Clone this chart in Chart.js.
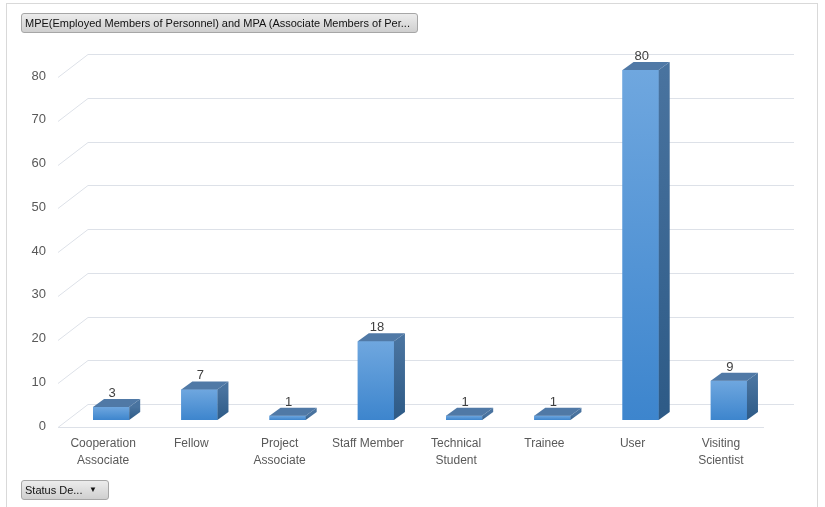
<!DOCTYPE html>
<html>
<head>
<meta charset="utf-8">
<script src="https://cdn.jsdelivr.net/npm/chart.js@4/dist/chart.umd.min.js"></script>
<style>
  html, body { margin: 0; padding: 0; background: #fff; overflow: hidden; }
  #wrap { position: relative; width: 825px; height: 507px; }
  #frame { position: absolute; left: 6px; top: 3px; width: 812px; height: 520px; border: 1px solid #d9d9d9; box-sizing: border-box; }
  .fieldBtn {
    position: absolute; height: 20px; box-sizing: border-box;
    border: 1px solid #a6a6a6; border-radius: 3px;
    background: linear-gradient(#ececec, #cfcfcf);
    font: 11px "Liberation Sans", Arial, sans-serif; color: #111;
    line-height: 18px; padding: 0 3px; white-space: nowrap; overflow: hidden;
  }
  #titleBtn { left: 21px; top: 13px; width: 397px; }
  #statusBtn { left: 21px; top: 480px; width: 88px; }
  #statusBtn span { font-size: 8px; position: absolute; right: 11px; top: 0; }
  canvas { position: absolute; left: 0; top: 0; }
</style>
</head>
<body>
<div id="wrap">
  <div id="frame"></div>
  <canvas id="barChart" width="825" height="507"></canvas>
  <div class="fieldBtn" id="titleBtn">MPE(Employed Members of Personnel) and MPA (Associate Members of Per...</div>
  <div class="fieldBtn" id="statusBtn">Status De...<span>&#9660;</span></div>
</div>
<script>
// data
var categories = [['Cooperation', 'Associate'], 'Fellow', ['Project', 'Associate'], 'Staff Member',
                  ['Technical', 'Student'], 'Trainee', 'User', ['Visiting', 'Scientist']];
var counts = [3, 7, 1, 18, 1, 1, 80, 9];
var yTicks = [0, 10, 20, 30, 40, 50, 60, 70, 80];

// offsets for the fake 3D look
var barDepth = { dx: 11, dy: -8 };
var floorFront = { dx: -9, dy: 7 };
var wallBack = { dx: 21, dy: -16 };

var threeD = {
    id: 'threeD',
    beforeDatasetsDraw: function (chart) {
        var ctx = chart.ctx, area = chart.chartArea, y = chart.scales.y;
        ctx.save();
        ctx.strokeStyle = '#dde1e8';
        ctx.lineWidth = 1;
        yTicks.forEach(function (v) {
            var py = Math.round(y.getPixelForValue(v)) + 0.5;
            ctx.beginPath();
            ctx.moveTo(area.left + floorFront.dx, py + floorFront.dy);
            ctx.lineTo(area.left + wallBack.dx, py + wallBack.dy);
            ctx.lineTo(area.right + wallBack.dx, py + wallBack.dy);
            ctx.stroke();
        });
        // front edge of the floor
        var p0 = Math.round(y.getPixelForValue(0)) + 0.5;
        ctx.beginPath();
        ctx.moveTo(area.left + floorFront.dx, p0 + floorFront.dy);
        ctx.lineTo(area.right + floorFront.dx, p0 + floorFront.dy);
        ctx.stroke();
        ctx.restore();
    },
    afterDatasetsDraw: function (chart) {
        var ctx = chart.ctx;
        var meta = chart.getDatasetMeta(0);
        ctx.save();
        meta.data.forEach(function (bar, i) {
            var l = bar.x - bar.width / 2, r = bar.x + bar.width / 2;
            var t = bar.y, b = bar.base;
            var dx = barDepth.dx, dy = barDepth.dy;

            var g = ctx.createLinearGradient(0, t, 0, b);
            g.addColorStop(0, '#6fa7df');
            g.addColorStop(1, '#3d85cd');
            ctx.fillStyle = g;
            ctx.fillRect(l, t, r - l, b - t);

            var gs = ctx.createLinearGradient(0, t, 0, b);
            gs.addColorStop(0, '#49739f');
            gs.addColorStop(1, '#2d5a86');
            ctx.fillStyle = gs;
            ctx.beginPath();
            ctx.moveTo(r, t);
            ctx.lineTo(r + dx, t + dy);
            ctx.lineTo(r + dx, b + dy);
            ctx.lineTo(r, b);
            ctx.closePath();
            ctx.fill();

            ctx.fillStyle = '#5079a6';
            ctx.beginPath();
            ctx.moveTo(l, t);
            ctx.lineTo(l + dx, t + dy);
            ctx.lineTo(r + dx, t + dy);
            ctx.lineTo(r, t);
            ctx.closePath();
            ctx.fill();

            ctx.fillStyle = '#404040';
            ctx.font = '13px "Liberation Sans", Arial, sans-serif';
            ctx.textAlign = 'center';
            ctx.textBaseline = 'bottom';
            ctx.fillText(String(counts[i]), bar.x + 1, t + dy + 1);
        });
        ctx.restore();
    }
};

var ctx = document.getElementById('barChart');

var myBarChart = new Chart(ctx, {
    type: 'bar',
    data: {
        labels: categories,
        datasets: [{
            label: 'Count',
            data: counts,
            backgroundColor: '#4a8fd5',
            borderWidth: 0,
            categoryPercentage: 1,
            barPercentage: 0.41
        }]
    },
    options: {
        responsive: false,
        animation: false,
        layout: { padding: { top: 70, left: 0, right: 52, bottom: 0 } },
        plugins: {
            legend: { display: false },
            tooltip: { enabled: false }
        },
        scales: {
            x: {
                grid: { display: false, drawTicks: false },
                border: { display: false },
                ticks: {
                    color: '#595959',
                    font: { family: '"Liberation Sans", Arial, sans-serif', size: 12, lineHeight: 1.4 },
                    padding: 15,
                    labelOffset: -8,
                    maxRotation: 0,
                    autoSkip: false
                },
                afterFit: function (scale) { scale.height = 87; }
            },
            y: {
                min: 0,
                max: 80,
                grid: { display: false, drawTicks: false },
                border: { display: false },
                ticks: {
                    stepSize: 10,
                    color: '#595959',
                    font: { family: '"Liberation Sans", Arial, sans-serif', size: 13 },
                    padding: 21,
                    labelOffset: 6
                },
                afterFit: function (scale) { scale.width = 67; }
            }
        }
    },
    plugins: [threeD]
});
</script>
</body>
</html>
